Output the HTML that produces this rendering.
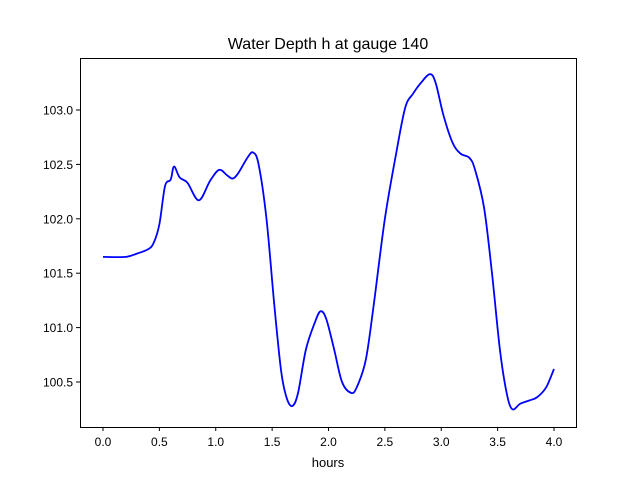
<!DOCTYPE html>
<html><head><meta charset="utf-8"><style>
body{margin:0;background:#fff}
svg{display:block;font-family:"Liberation Sans","DejaVu Sans",sans-serif}
</style></head><body>
<svg id="chart" width="640" height="480">
<rect width="640" height="480" fill="#fff"/>
<text x="328" y="49" font-size="16" text-anchor="middle">Water Depth h at gauge 140</text>
<g id="xt"></g>
<g id="yt"></g>
<path id="line" fill="none" stroke="#0000ff" stroke-width="1.8"/>
<rect x="80.5" y="58.5" width="496" height="369" fill="none" stroke="#000" stroke-width="1"/>
<text x="328" y="467" font-size="13" text-anchor="middle">hours</text>
</svg>
<script>
const hours=[0,0.2,0.3,0.4,0.45,0.5,0.55,0.6,0.63,0.68,0.75,0.85,0.95,1.03,1.1,1.15,1.2,1.28,1.33,1.38,1.45,1.52,1.58,1.63,1.68,1.73,1.8,1.88,1.93,1.98,2.05,2.12,2.2,2.25,2.33,2.4,2.5,2.6,2.68,2.75,2.82,2.9,2.95,3.02,3.1,3.17,3.25,3.3,3.38,3.45,3.52,3.58,3.63,3.7,3.78,3.85,3.93,4.0];
const depth=[101.65,101.65,101.68,101.72,101.78,101.95,102.3,102.36,102.48,102.38,102.33,102.17,102.35,102.45,102.4,102.37,102.42,102.56,102.61,102.5,102.0,101.2,100.6,100.35,100.28,100.4,100.8,101.05,101.15,101.08,100.8,100.5,100.4,100.45,100.7,101.2,102.0,102.6,103.02,103.15,103.25,103.33,103.25,102.95,102.7,102.6,102.56,102.45,102.1,101.5,100.8,100.4,100.25,100.3,100.33,100.36,100.45,100.62];
const xTicks=[0,0.5,1,1.5,2,2.5,3,3.5,4];
const yTicks=[100.5,101,101.5,102,102.5,103];
const X=v=>103+v*112.75;
const Y=v=>382-(v-100.5)*108.8;
const NS="http://www.w3.org/2000/svg";
function mk(t,a,p,txt){const e=document.createElementNS(NS,t);for(const k in a)e.setAttribute(k,a[k]);if(txt!==undefined)e.textContent=txt;p.appendChild(e);return e;}
const xt=document.getElementById('xt'),yt=document.getElementById('yt');
xTicks.forEach(v=>{const x=X(v);
const l=mk('line',{x1:x,x2:x,y1:427,y2:431,stroke:'#000'},xt);


const t=mk('text',{x:x,y:446,'font-size':12,'text-anchor':'middle'},xt,v.toFixed(1));

});
yTicks.forEach(v=>{const y=Y(v);
const l=mk('line',{x1:76,x2:80,y1:y,y2:y,stroke:'#000'},yt);


const t=mk('text',{x:73,y:y+4.5,'font-size':12,'text-anchor':'end'},yt,v.toFixed(1));

});
const P=hours.map((h,i)=>[X(h),Y(depth[i])]);
let d='M'+P[0][0]+','+P[0][1];
for(let i=0;i<P.length-1;i++){const p0=P[i-1]||P[i],p1=P[i],p2=P[i+1],p3=P[i+2]||p2;
const c1=[p1[0]+(p2[0]-p0[0])/6,p1[1]+(p2[1]-p0[1])/6],c2=[p2[0]-(p3[0]-p1[0])/6,p2[1]-(p3[1]-p1[1])/6];
d+=` C${c1[0]},${c1[1]} ${c2[0]},${c2[1]} ${p2[0]},${p2[1]}`;}
document.getElementById('line').setAttribute('d',d);
</script>
</body></html>
